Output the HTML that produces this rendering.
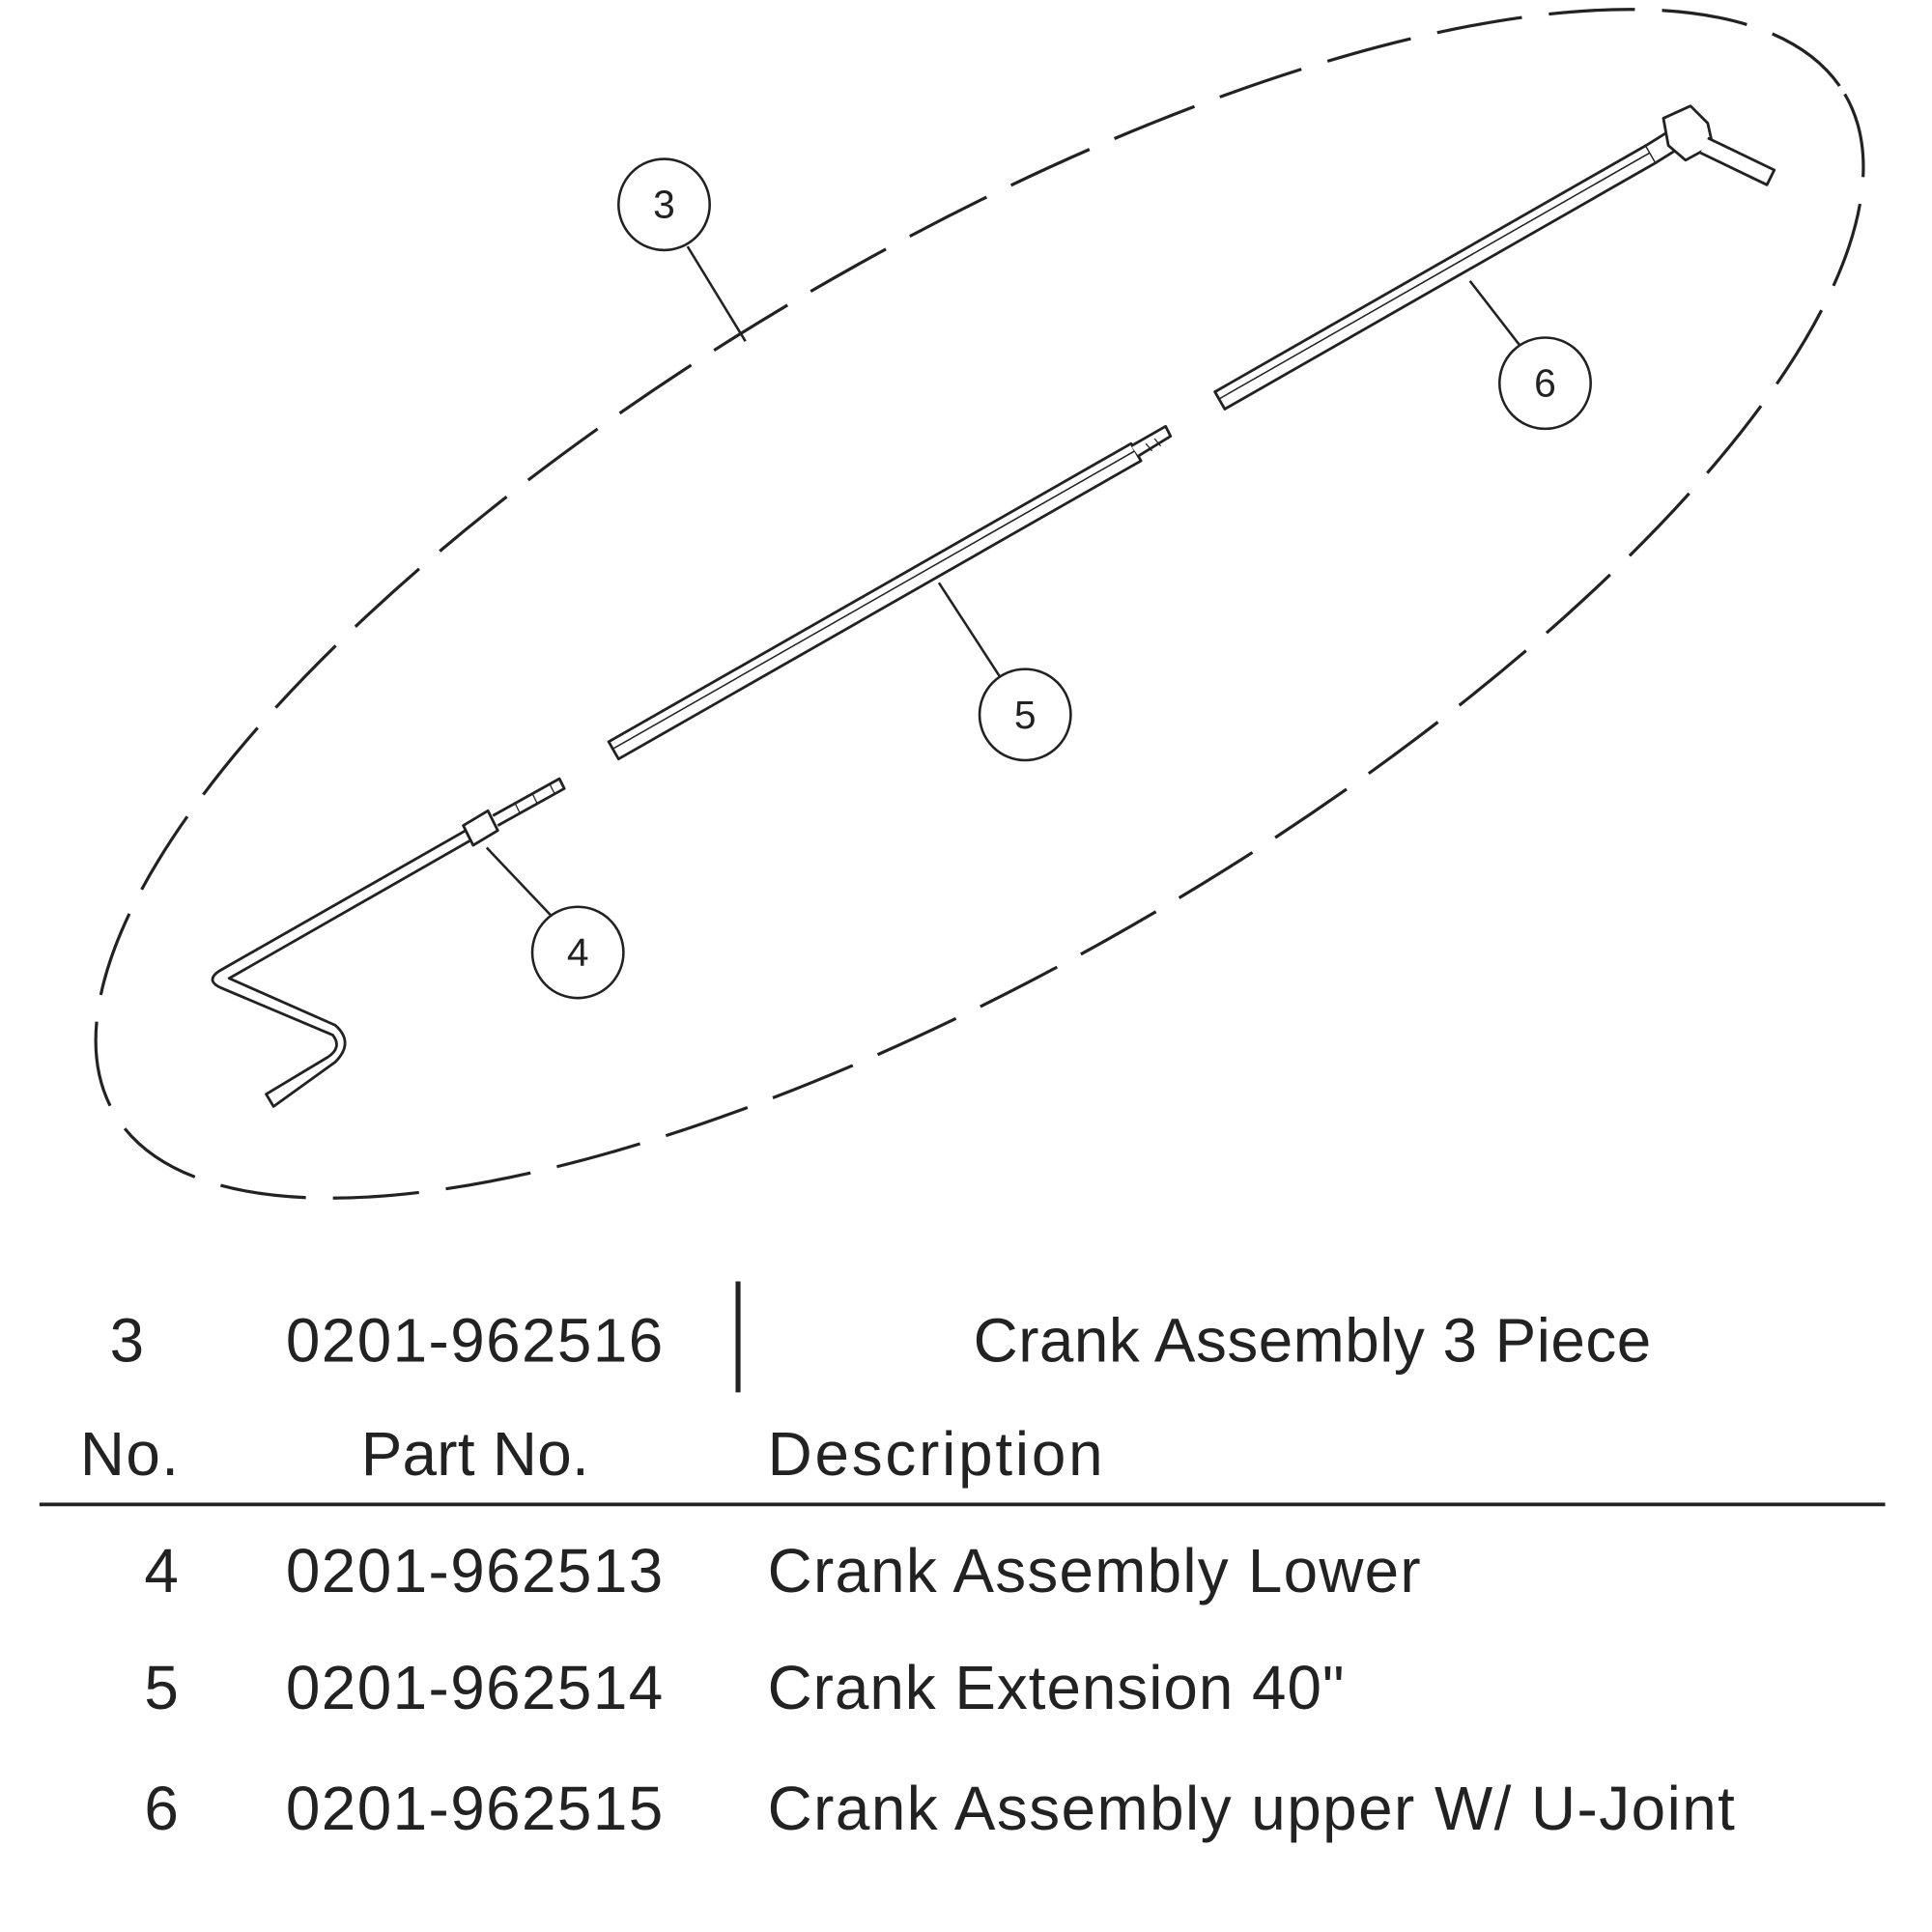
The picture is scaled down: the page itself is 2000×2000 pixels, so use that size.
<!DOCTYPE html>
<html><head><meta charset="utf-8"><style>
html,body{margin:0;padding:0;background:#fff;}
svg{display:block;}
text{font-family:"Liberation Sans",sans-serif;fill:#222;}
</style></head><body>
<svg width="2000" height="2000" viewBox="0 0 1568 1568" xmlns="http://www.w3.org/2000/svg">
<ellipse cx="795" cy="490" rx="815" ry="288" transform="rotate(-30.5 795 490)" fill="none" stroke="#222" stroke-width="2.5" stroke-dasharray="70 22"/>
<g fill="none" stroke="#222" stroke-width="2.2" stroke-linejoin="round">
<path d="M986 318 L1336 118 L1344 132 L994 332 Z" fill="#fff"/>
<line x1="989" y1="324" x2="1339" y2="124" stroke-width="1.2"/>
<path d="M1336 118 L1352 108 L1360 122 L1344 132" fill="#fff"/>
<path d="M1350 96 L1372 86 L1386 100 L1390 118 L1368 130 L1354 118 Z" fill="#fff"/>
<path d="M1386 112 L1440 138 L1434 150 L1380 124" fill="#fff"/>
<path d="M494 602 L918 360 L926 374 L502 616 Z" fill="#fff"/>
<line x1="497" y1="608" x2="921" y2="366" stroke-width="1.2"/>
<path d="M918 362 L946 346 L950 354 L924 370" fill="#fff"/>
<line x1="930" y1="360" x2="935" y2="366" stroke-width="1"/>
<line x1="937" y1="356" x2="942" y2="362" stroke-width="1"/>
<path d="M216 888 L266 858 Q278 850 270 840 L180 802 Q166 796 178 788 L378 674 L382 682 L186 794 L272 832 Q288 846 272 862 L222 898 Z" fill="#fff"/>
<path d="M376 670 L396 658 L404 674 L384 686 Z" fill="#fff"/>
<path d="M400 662 L454 632 L458 640 L404 670" fill="#fff"/>
<line x1="418" y1="652" x2="422" y2="660" stroke-width="1"/>
<line x1="432" y1="644" x2="436" y2="652" stroke-width="1"/>
<line x1="446" y1="636" x2="450" y2="644" stroke-width="1"/>
</g>
<g fill="#fff" stroke="#222" stroke-width="2">
<line x1="558" y1="200" x2="605" y2="277"/>
<circle cx="539" cy="166" r="37"/>
<line x1="1193" y1="228" x2="1234" y2="281"/>
<circle cx="1254" cy="311" r="37"/>
<line x1="762" y1="473" x2="812" y2="550"/>
<circle cx="832" cy="580" r="37"/>
<line x1="395" y1="688" x2="450" y2="746"/>
<circle cx="469" cy="773" r="37"/>
</g>
<g font-size="32" text-anchor="middle">
<text x="539" y="177">3</text>
<text x="1254" y="322">6</text>
<text x="832" y="591">5</text>
<text x="469" y="784">4</text>
</g>
<g font-size="50">
<text x="103" y="1105" text-anchor="middle">3</text>
<text x="232" y="1105" textLength="306">0201-962516</text>
<text x="790" y="1105" textLength="550">Crank Assembly 3 Piece</text>
<text x="65" y="1197" textLength="80">No.</text>
<text x="293" y="1197" textLength="185">Part No.</text>
<text x="623" y="1197" textLength="272">Description</text>
<text x="131" y="1292" text-anchor="middle">4</text>
<text x="232" y="1292" textLength="306">0201-962513</text>
<text x="623" y="1292" textLength="530">Crank Assembly Lower</text>
<text x="131" y="1387" text-anchor="middle">5</text>
<text x="232" y="1387" textLength="306">0201-962514</text>
<text x="623" y="1387" textLength="468">Crank Extension 40"</text>
<text x="131" y="1485" text-anchor="middle">6</text>
<text x="232" y="1485" textLength="306">0201-962515</text>
<text x="623" y="1485" textLength="785">Crank Assembly upper W/ U-Joint</text>
</g>
<line x1="599" y1="1040" x2="599" y2="1130" stroke="#222" stroke-width="4"/>
<line x1="32" y1="1221" x2="1530" y2="1221" stroke="#222" stroke-width="3"/>
</svg>
</body></html>
